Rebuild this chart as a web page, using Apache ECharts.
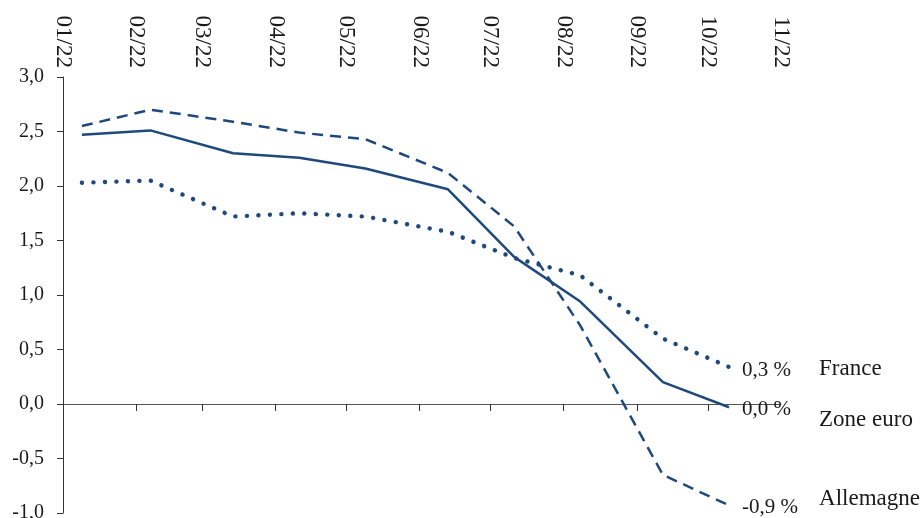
<!DOCTYPE html>
<html>
<head>
<meta charset="utf-8">
<script src="https://cdn.jsdelivr.net/npm/echarts@6/dist/echarts.min.js"></script>
<style>
html,body{margin:0;padding:0;background:#fff;}
#chart{width:924px;height:518px;}
</style>
</head>
<body>
<div id="chart"></div>
<script>
// ---- data ----
const dates = ['2022-01-09','2022-02-07','2022-03-14','2022-04-11','2022-05-09','2022-06-13','2022-07-11','2022-08-08','2022-09-12','2022-10-10'];
const zoneEuro  = [2.47, 2.51, 2.30, 2.26, 2.16, 1.97, 1.35, 0.94, 0.20, -0.03];
const allemagne = [2.55, 2.70, 2.59, 2.49, 2.43, 2.12, 1.63, 0.72, -0.65, -0.93];
const france    = [2.03, 2.05, 1.72, 1.75, 1.72, 1.58, 1.34, 1.18, 0.60, 0.34];
const tickLabels = ['01/22','02/22','03/22','04/22','05/22','06/22','07/22','08/22','09/22','10/22','11/22'];
const seriesNames = ['Zone euro', 'Allemagne', 'France'];

function ts(s) { const p = s.split('-').map(Number); return new Date(p[0], p[1] - 1, p[2]).getTime(); }
const monthStarts = tickLabels.map((_, i) => new Date(2022, i, 1).getTime());
const tickMonths = monthStarts.slice(0, 10);
const xs = dates.map(ts);

function fmtPct(v) {
  let r = Math.round(v * 10) / 10;
  if (r === 0) r = 0;
  return r.toFixed(1).replace('.', ',') + ' %';
}
function labelFor(v) {
  let best = 0, bd = Infinity;
  monthStarts.forEach((m, i) => { const d = Math.abs(m - v); if (d < bd) { bd = d; best = i; } });
  return tickLabels[best];
}

const color = '#1f497d';
const font = 'Liberation Serif';
const txt = '#1a1a1a';

function makeSeries(name, values, lineStyle, dyVal, dyName) {
  const last = values.length - 1;
  const coord = [xs[last], values[last]];
  return {
    name: name,
    type: 'line',
    xAxisIndex: 0,
    yAxisIndex: 0,
    data: xs.map((x, i) => [x, values[i]]),
    symbol: 'none',
    lineStyle: lineStyle,
    z: 3,
    markPoint: {
      symbol: 'circle',
      symbolSize: 0,
      silent: true,
      data: [
        { coord: coord, label: { formatter: fmtPct(values[last]), offset: [13, dyVal], fontSize: 21 } },
        { coord: coord, label: { formatter: name, offset: [90, dyName], fontSize: 23 } }
      ],
      label: {
        show: true,
        position: 'inside',
        align: 'left',
        verticalAlign: 'middle',
        color: txt,
        fontFamily: font
      }
    }
  };
}

const chart = echarts.init(document.getElementById('chart'), null, { renderer: 'canvas' });
chart.setOption({
  animation: false,
  backgroundColor: '#fff',
  grid: { left: 63, right: 143, top: 77, bottom: 5, containLabel: false, outerBoundsMode: 'none' },
  xAxis: [
    {
      type: 'value',
      min: monthStarts[0],
      max: monthStarts[10],
      position: 'bottom',
      axisLine: { show: true, onZero: true, lineStyle: { color: '#555', width: 1 } },
      axisTick: { show: true, customValues: tickMonths, length: 7, lineStyle: { color: '#333', width: 1 } },
      axisLabel: { show: false },
      splitLine: { show: false }
    },
    {
      type: 'value',
      min: monthStarts[0],
      max: monthStarts[10],
      position: 'top',
      axisLine: { show: false, onZero: false },
      axisTick: { show: false },
      splitLine: { show: false },
      axisLabel: {
        show: true,
        rotate: 90,
        margin: 9,
        customValues: monthStarts,
        formatter: function (v) { return labelFor(v); },
        color: txt,
        fontFamily: font,
        fontSize: 23
      }
    }
  ],
  yAxis: {
    type: 'value',
    min: -1,
    max: 3,
    interval: 0.5,
    axisLine: { show: true, onZero: false, lineStyle: { color: '#333', width: 1 } },
    axisTick: { show: true, length: 6, lineStyle: { color: '#333', width: 1 } },
    splitLine: { show: false },
    axisLabel: {
      margin: 19,
      color: txt,
      fontFamily: font,
      fontSize: 20,
      formatter: function (v) { return v.toFixed(1).replace('.', ','); }
    }
  },
  series: [
    makeSeries(seriesNames[0], zoneEuro, { color: color, width: 2.5, type: 'solid' }, 2, 13),
    makeSeries(seriesNames[1], allemagne, { color: color, width: 2.5, type: [11, 7] }, 2, -6),
    makeSeries(seriesNames[2], france, { color: color, width: 4.4, type: [0.1, 11.4], cap: 'round' }, 3.5, 2.5)
  ]
});
</script>
</body>
</html>
